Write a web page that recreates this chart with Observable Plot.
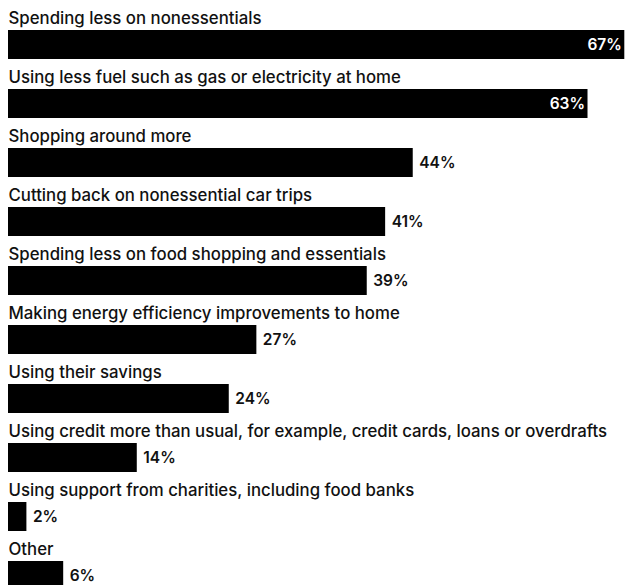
<!DOCTYPE html>
<html>
<head>
<meta charset="utf-8">
<script src="https://cdn.jsdelivr.net/npm/d3@7"></script>
<script src="https://cdn.jsdelivr.net/npm/@observablehq/plot@0.6"></script>
<style>
  html, body { margin: 0; padding: 0; background: #fff; overflow: hidden; }
  #chart svg { display: block; }
</style>
</head>
<body>
<div id="chart"></div>
<script>
const categories = [
  "Spending less on nonessentials",
  "Using less fuel such as gas or electricity at home",
  "Shopping around more",
  "Cutting back on nonessential car trips",
  "Spending less on food shopping and essentials",
  "Making energy efficiency improvements to home",
  "Using their savings",
  "Using credit more than usual, for example, credit cards, loans or overdrafts",
  "Using support from charities, including food banks",
  "Other"
];
const values = [67, 63, 44, 41, 39, 27, 24, 14, 2, 6];
const valueLabels = ["67%", "63%", "44%", "41%", "39%", "27%", "24%", "14%", "2%", "6%"];

const data = categories.map((c, i) => ({category: c, value: values[i], label: valueLabels[i], inside: values[i] >= 60}));

const font = "Inter, 'Noto Sans', sans-serif";

const chart = Plot.plot({
  width: 626,
  height: 585,
  marginTop: 0,
  marginBottom: 0,
  marginLeft: 8,
  marginRight: 2,
  style: {fontFamily: font, background: "#fff", overflow: "hidden"},
  x: {domain: [0, 67], range: [8, 624.3], axis: null},
  y: {domain: categories, range: [0, 590], padding: 0, axis: null},
  marks: [
    Plot.barX(data, {x: "value", y: "category", fill: "#000", insetTop: 30, insetBottom: 0}),
    Plot.text(data, {
      x: 0, y: "category", text: "category", textAnchor: "start",
      dy: -11.8, fontSize: 16.8, fontWeight: 500, fill: "#111"
    }),
    Plot.text(data.filter(d => !d.inside), {
      x: "value", y: "category", text: "label", textAnchor: "start",
      dx: 6, dy: 15, fontSize: 15.5, fontWeight: 600, fill: "#111"
    }),
    Plot.text(data.filter(d => d.inside), {
      x: "value", y: "category", text: "label", textAnchor: "end",
      dx: -3, dy: 15, fontSize: 15.5, fontWeight: 600, fill: "#fff"
    })
  ]
});
document.getElementById("chart").appendChild(chart);
</script>
</body>
</html>
